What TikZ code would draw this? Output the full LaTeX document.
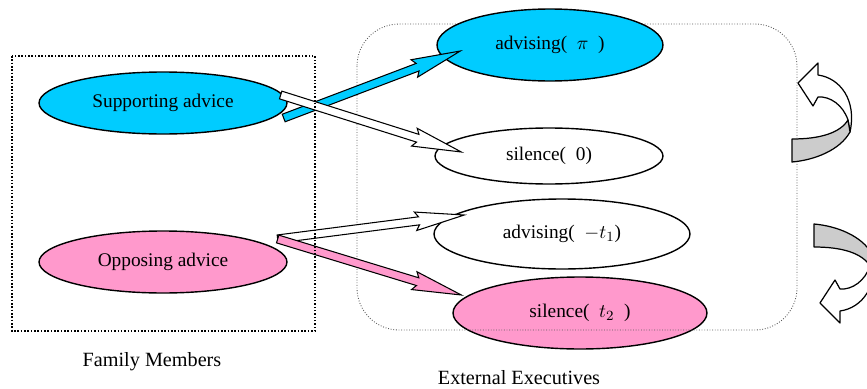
\documentclass[tikz,border=0pt]{standalone}
\usepackage{fontspec}
\setmainfont{Liberation Serif}
\usetikzlibrary{shapes.geometric,calc}
\definecolor{advblue}{RGB}{0,204,255}
\definecolor{advpink}{RGB}{255,153,204}
\definecolor{turngray}{RGB}{204,204,204}
\tikzset{
    choice/.style={ellipse, draw, line width=0.8pt, inner sep=0pt, font=\fontsize{11}{13}\selectfont},
    caption/.style={font=\fontsize{11.5}{14}\selectfont}
}
% wide arrow from #2 to #3, filled with #1
\newcommand{\blockarrow}[3]{%
    \filldraw[fill=#1, line width=0.6pt, line join=miter] let \p1=(#2), \p2=(#3),
        \n1={atan2(\y2-\y1,\x2-\x1)}, \n2={veclen(\x2-\x1,\y2-\y1)} in
        [shift={(\p1)}, rotate=\n1]
        (0pt,-2.3pt) -- ({\n2*1pt-26pt},-2.3pt) -- ({\n2*1pt-28pt},-5.3pt) -- ({\n2*1pt},0pt)
        -- ({\n2*1pt-28pt},5.3pt) -- ({\n2*1pt-26pt},2.3pt) -- (0pt,2.3pt) -- cycle;}
% curved turn-back arrow
\newcommand{\turnarrow}{%
    \filldraw[fill=white, line width=0.7pt, line join=round] (848,120) .. controls (843,105) and (830,96) .. (818,97)
        -- (813,106) -- (798,83) -- (818,63) -- (818,75) .. controls (840,78) and (857,100) .. (850,132) -- cycle;
    \filldraw[fill=turngray, line width=0.7pt, line join=round] (792,139) .. controls (820,139) and (840,133) .. (848,120)
        -- (850,132) .. controls (840,150) and (815,160) .. (792,162) -- cycle;}
\begin{document}
\begin{tikzpicture}[x=0.02cm, y=-0.02cm]
\useasboundingbox (0,0) rectangle (867,389);
\clip (0,0) rectangle (867,389);

\node[choice, fill=advpink, minimum width=5.08cm, minimum height=1.44cm] (silT) at (580,313) {silence(\enspace$t_2$\enspace)};
\draw[black!65, densely dotted, line width=0.5pt, rounded corners=24pt] (357,24) rectangle (797,330);

\node[choice, fill=advblue, minimum width=4.96cm, minimum height=1.24cm] (sup) at (163,103) {Supporting advice};
\node[choice, fill=advpink, minimum width=4.96cm, minimum height=1.24cm] (opp) at (163,262) {Opposing advice};
\node[choice, fill=advblue, minimum width=4.52cm, minimum height=1.44cm] (advP) at (550,45) {advising(\enspace$\pi$\enspace)};
\node[choice, fill=white, minimum width=4.56cm, minimum height=1.12cm] (sil0) at (549,156) {silence(\enspace0)};
\node[choice, fill=white, minimum width=5.12cm, minimum height=1.40cm] (advT) at (562,234) {advising(\enspace$-t_1$)};

% arrow ends
\coordinate (supA) at ([shift={(-4,15)}]sup.east);
\coordinate (supB) at ([shift={(-7,-8)}]sup.east);
\coordinate (oppA) at ([shift={(-10,-23)}]opp.east);
\coordinate (advPin) at ([shift={(24,6)}]advP.west);
\coordinate (sil0in) at ([shift={(27,-4)}]sil0.west);
\coordinate (advTin) at ([shift={(31,-19)}]advT.west);
\coordinate (silTin) at ([shift={(9,-18)}]silT.west);

\blockarrow{advblue}{supA}{advPin}
\blockarrow{white}{supB}{sil0in}
\blockarrow{white}{oppA}{advTin}
\blockarrow{advpink}{oppA}{silTin}

\draw[densely dotted, line width=0.9pt] (12,56) rectangle (315,331);

\turnarrow
\begin{scope}[shift={(22,386)}, yscale=-1]
\turnarrow
\end{scope}

\node[caption] (fam) at (152,362) {Family Members};
\node[caption] (ext) at (519,378) {External Executives};
\end{tikzpicture}
\end{document}
